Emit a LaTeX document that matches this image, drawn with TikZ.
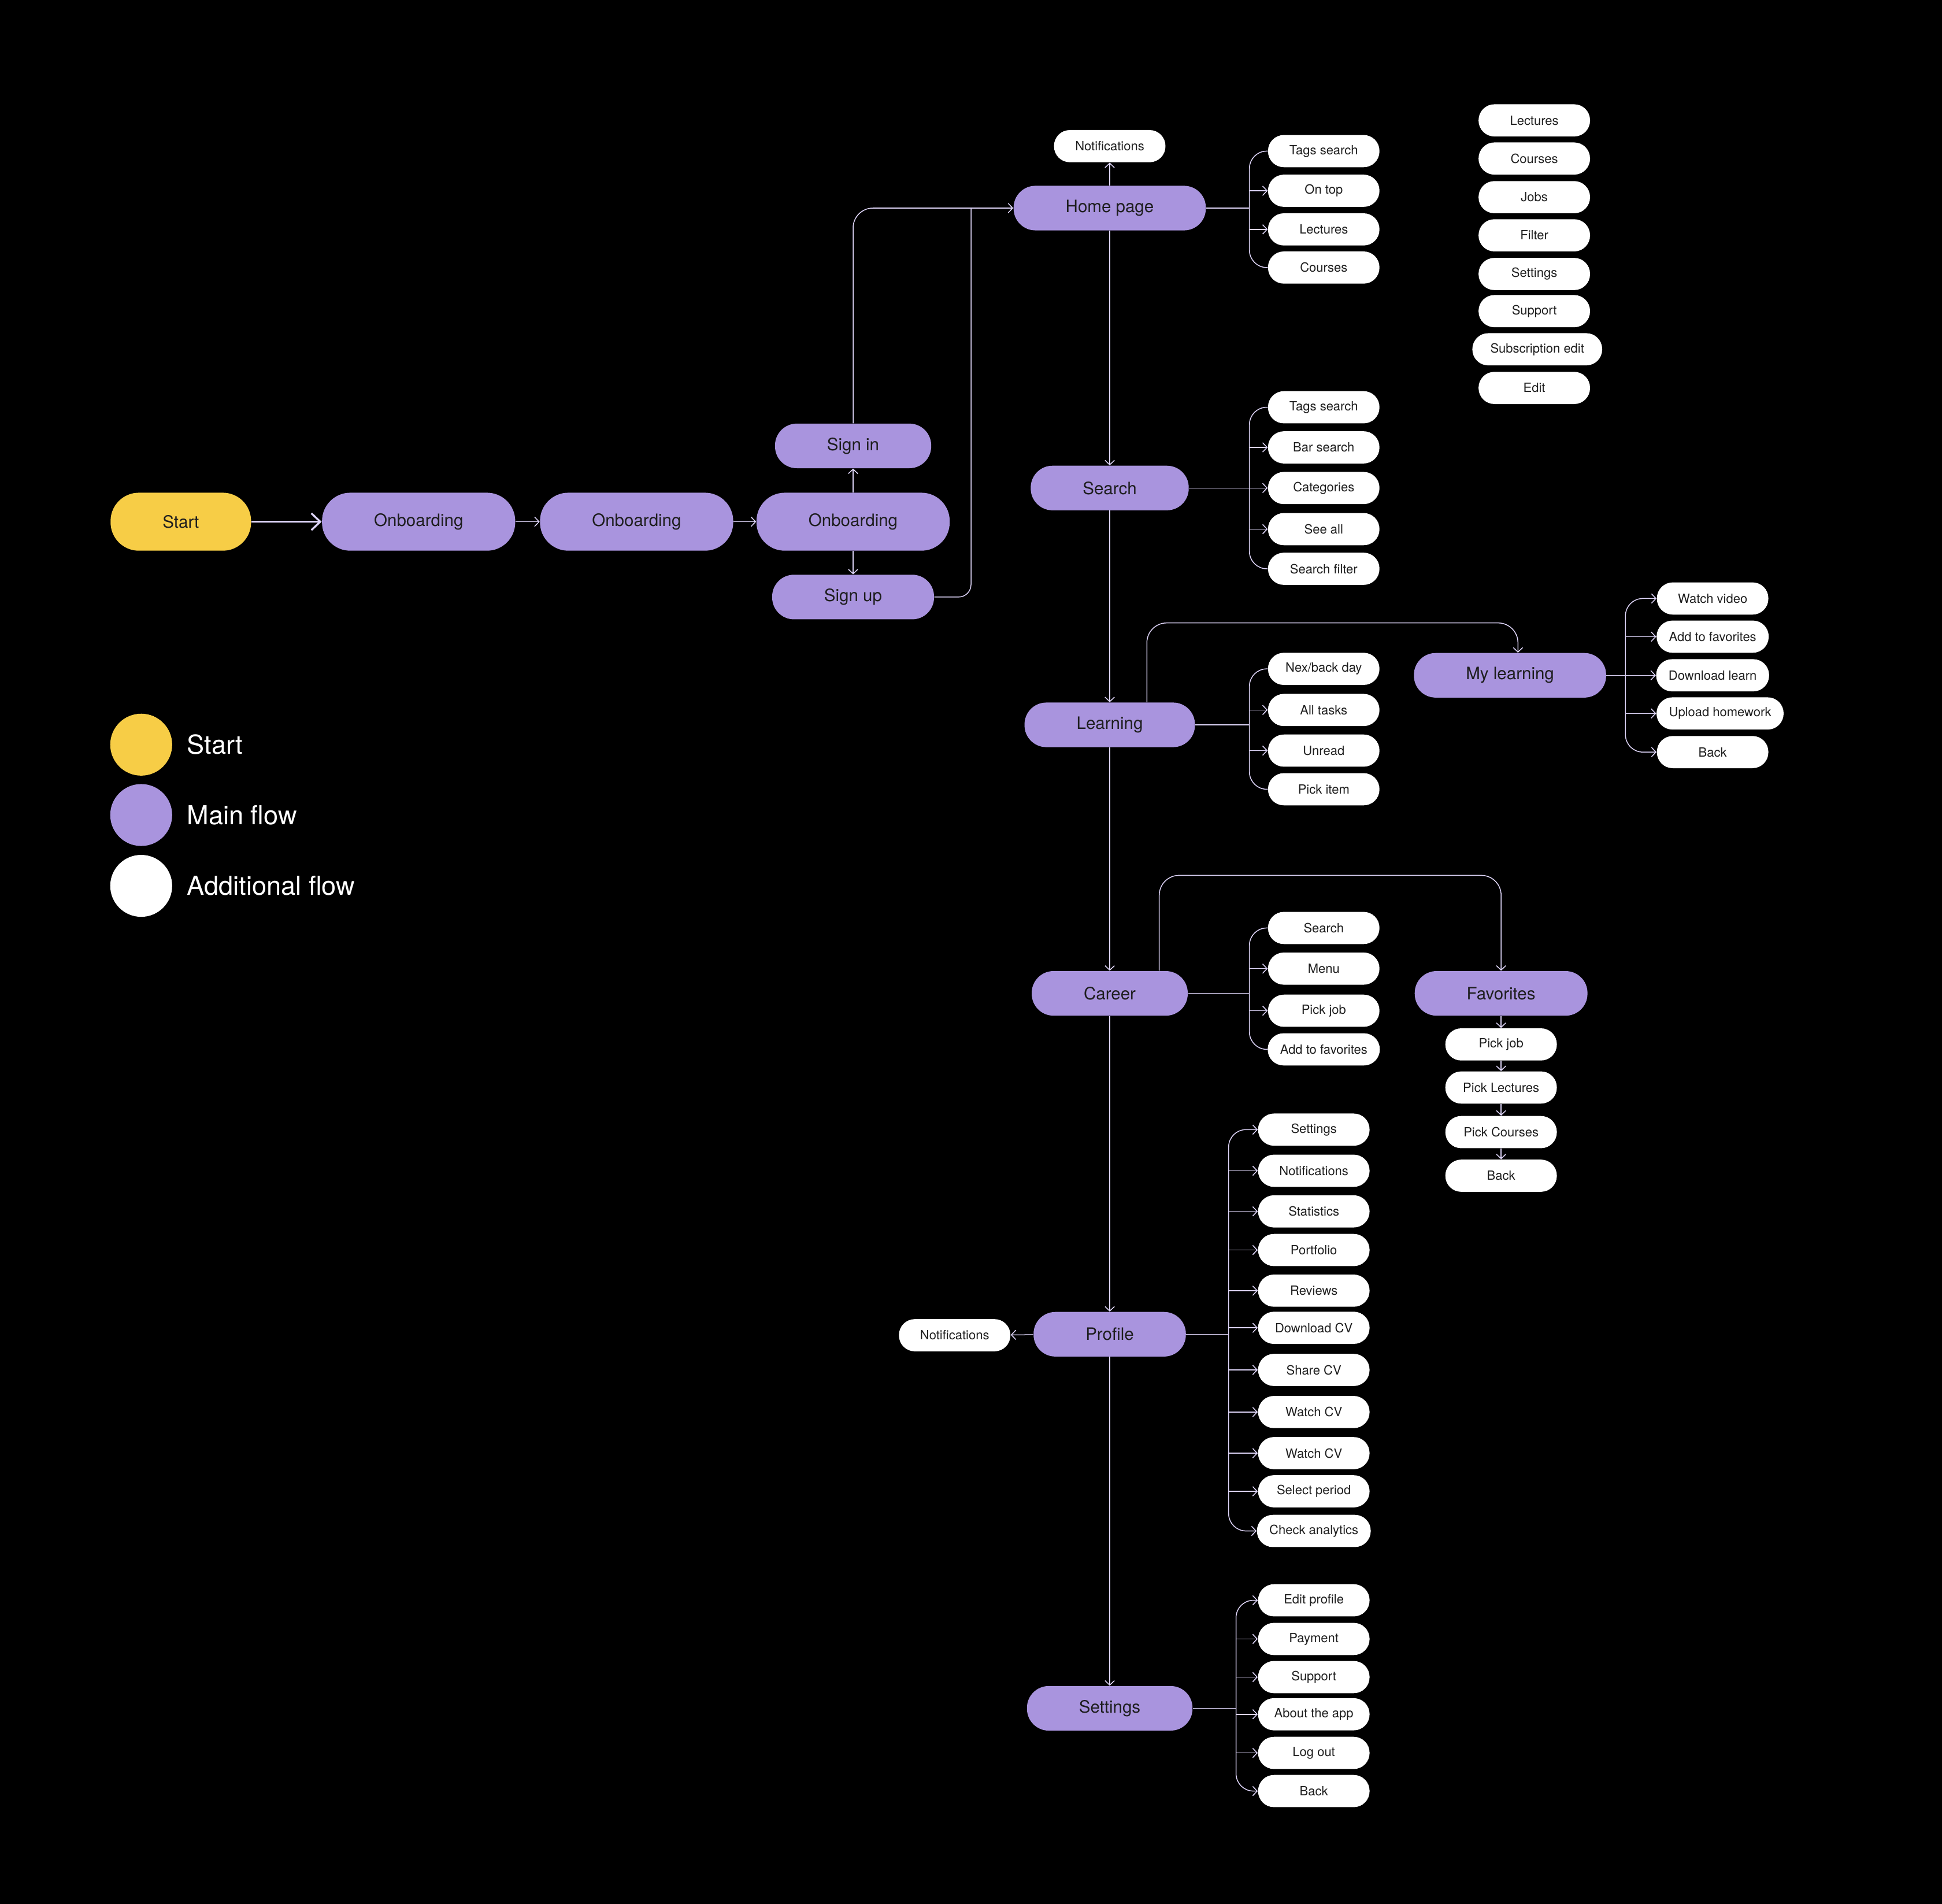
\documentclass[tikz,border=0pt]{standalone}
\usepackage{fontspec}
\setmainfont{TeX Gyre Heros}
\usetikzlibrary{arrows.meta}
\definecolor{flowpurple}{HTML}{A994DE}
\definecolor{flowyellow}{HTML}{F7CD46}
\definecolor{wire}{HTML}{DCD3F6}
\definecolor{ink}{HTML}{1E1E1E}
\newcommand{\nodesize}{\fontsize{9.8}{11}\selectfont}
\newcommand{\subsize}{\fontsize{7.3}{9}\selectfont}
\newcommand{\keysize}{\fontsize{15}{18}\selectfont}
\tikzset{
  mainbox/.style={rectangle, rounded corners=4.4mm, fill=flowpurple, text=ink, minimum height=9mm, inner xsep=10.5mm, font=\nodesize},
  bigbox/.style={mainbox, rounded corners=5.7mm, minimum height=11.7mm},
  startbox/.style={bigbox, fill=flowyellow},
  subbox/.style={rectangle, rounded corners=3.2mm, fill=white, text=ink, minimum height=6.5mm, minimum width=22.5mm, inner xsep=2.5mm, font=\subsize},
  ln/.style={draw=wire, line width=0.5pt},
  arr/.style={ln, -{Straight Barb[length=0.9mm, width=1.9mm]}},
  bigarr/.style={draw=wire, line width=1.1pt, -{Straight Barb[length=1.8mm, width=3.4mm]}},
  key/.style={circle, minimum size=12.5mm, inner sep=0pt},
  keytext/.style={anchor=west, text=white, font=\keysize}
}

\begin{document}
\begin{tikzpicture}
\fill[black] (0,0) rectangle (39.2,-38.425);

% entry
\node[startbox] (start) at (3.65,-10.53) {Start};
\node[bigbox] (onb1) at (8.45,-10.53) {Onboarding};
\node[bigbox] (onb2) at (12.85,-10.53) {Onboarding};
\node[bigbox] (onb3) at (17.22,-10.53) {Onboarding};
\node[mainbox] (signin) at (17.22,-9.0) {Sign in};
\node[mainbox] (signup) at (17.22,-12.05) {Sign up};
\draw[bigarr] (start) -- (onb1);
\draw[arr] (onb1) -- (onb2);
\draw[arr] (onb2) -- (onb3);
\draw[arr] (onb3) -- (signin);
\draw[arr] (onb3) -- (signup);

% home page
\node[mainbox] (home) at (22.4,-4.2) {Home page};
\node[subbox] (ntop) at (22.4,-2.95) {Notifications};
\node[subbox] (hs1) at (26.72,-3.05) {Tags search};
\node[subbox] (hs2) at (26.72,-3.85) {On top};
\node[subbox] (hs3) at (26.72,-4.63) {Lectures};
\node[subbox] (hs4) at (26.72,-5.4) {Courses};
\coordinate (hb) at (25.22,-4.2);
\coordinate (join) at (19.6,-4.2);
\draw[arr, rounded corners=4mm] (signin.north) |- (home.west);
\draw[ln, rounded corners=2.5mm] (signup.east) -| (join);
\draw[arr] (home) -- (ntop);
\draw[ln] (home) -- (hb);
\draw[ln, rounded corners=3.5mm] (hb) |- (hs1.west);
\draw[ln, rounded corners=3.5mm] (hb) |- (hs4.west);
\draw[arr] (hb |- hs2.west) -- (hs2.west);
\draw[arr] (hb |- hs3.west) -- (hs3.west);

% loose screens
\node[subbox] (tr1) at (30.97,-2.43) {Lectures};
\node[subbox] (tr2) at (30.97,-3.2) {Courses};
\node[subbox] (tr3) at (30.97,-3.98) {Jobs};
\node[subbox] (tr4) at (30.97,-4.75) {Filter};
\node[subbox] (tr5) at (30.97,-5.53) {Settings};
\node[subbox] (tr6) at (30.97,-6.28) {Support};
\node[subbox, minimum width=26.2mm] (tr7) at (31.03,-7.05) {Subscription edit};
\node[subbox] (tr8) at (30.97,-7.83) {Edit};

% search
\node[mainbox] (search) at (22.4,-9.85) {Search};
\node[subbox] (ss1) at (26.72,-8.22) {Tags search};
\node[subbox] (ss2) at (26.72,-9.03) {Bar search};
\node[subbox] (ss3) at (26.72,-9.85) {Categories};
\node[subbox] (ss4) at (26.72,-10.68) {See all};
\node[subbox] (ss5) at (26.72,-11.48) {Search filter};
\coordinate (sb) at (25.22,-9.85);
\draw[arr] (home) -- (search);
\draw[arr] (search) -- (ss3);
\draw[ln, rounded corners=3.5mm] (sb) |- (ss1.west);
\draw[ln, rounded corners=3.5mm] (sb) |- (ss5.west);
\draw[arr] (sb |- ss2.west) -- (ss2.west);
\draw[arr] (sb |- ss4.west) -- (ss4.west);

% learning
\node[mainbox] (learn) at (22.4,-14.63) {Learning};
\node[subbox] (ls1) at (26.72,-13.5) {Nex/back day};
\node[subbox] (ls2) at (26.72,-14.33) {All tasks};
\node[subbox] (ls3) at (26.72,-15.15) {Unread};
\node[subbox] (ls4) at (26.72,-15.93) {Pick item};
\coordinate (lb) at (25.22,-14.63);
\draw[arr] (search) -- (learn);
\draw[ln] (learn) -- (lb);
\draw[ln, rounded corners=3.5mm] (lb) |- (ls1.west);
\draw[ln, rounded corners=3.5mm] (lb) |- (ls4.west);
\draw[arr] (lb |- ls2.west) -- (ls2.west);
\draw[arr] (lb |- ls3.west) -- (ls3.west);

% my learning
\node[mainbox] (mylearn) at (30.48,-13.63) {My learning};
\node[subbox] (ms1) at (34.57,-12.08) {Watch video};
\node[subbox] (ms2) at (34.57,-12.85) {Add to favorites};
\node[subbox] (ms3) at (34.57,-13.63) {Download learn};
\node[subbox, minimum width=25.5mm] (ms4) at (34.72,-14.4) {Upload homework};
\node[subbox] (ms5) at (34.57,-15.18) {Back};
\coordinate (mb) at (32.81,-13.63);
\draw[arr, rounded corners=4mm] ([xshift=7.5mm]learn.north) |- ([xshift=1.6mm, yshift=6mm]mylearn.north) -- ([xshift=1.6mm]mylearn.north);
\draw[arr] (mylearn) -- (ms3);
\draw[arr, rounded corners=3.5mm] (mb) |- (ms1.west);
\draw[arr, rounded corners=3.5mm] (mb) |- (ms5.west);
\draw[arr] (mb |- ms2.west) -- (ms2.west);
\draw[arr] (mb |- ms4.west) -- (ms4.west);

% career
\node[mainbox] (career) at (22.4,-20.05) {Career};
\node[subbox] (cs1) at (26.72,-18.73) {Search};
\node[subbox] (cs2) at (26.72,-19.55) {Menu};
\node[subbox] (cs3) at (26.72,-20.4) {Pick job};
\node[subbox] (cs4) at (26.72,-21.18) {Add to favorites};
\coordinate (cb) at (25.22,-20.05);
\draw[arr] (learn) -- (career);
\draw[ln] (career) -- (cb);
\draw[ln, rounded corners=3.5mm] (cb) |- (cs1.west);
\draw[ln, rounded corners=3.5mm] (cb) |- (cs4.west);
\draw[arr] (cb |- cs2.west) -- (cs2.west);
\draw[arr] (cb |- cs3.west) -- (cs3.west);

% favorites
\node[mainbox] (fav) at (30.3,-20.05) {Favorites};
\node[subbox] (fs1) at (30.3,-21.08) {Pick job};
\node[subbox] (fs2) at (30.3,-21.95) {Pick Lectures};
\node[subbox] (fs3) at (30.3,-22.85) {Pick Courses};
\node[subbox] (fs4) at (30.3,-23.73) {Back};
\draw[arr, rounded corners=4mm] ([xshift=10mm]career.north) |- ([yshift=19.25mm]fav.north) -- (fav.north);
\draw[arr] (fav) -- (fs1);
\draw[arr] (fs1) -- (fs2);
\draw[arr] (fs2) -- (fs3);
\draw[arr] (fs3) -- (fs4);

% profile
\node[mainbox] (profile) at (22.4,-26.93) {Profile};
\node[subbox] (nleft) at (19.27,-26.95) {Notifications};
\node[subbox] (ps1) at (26.52,-22.8) {Settings};
\node[subbox] (ps2) at (26.52,-23.63) {Notifications};
\node[subbox] (ps3) at (26.52,-24.45) {Statistics};
\node[subbox] (ps4) at (26.52,-25.23) {Portfolio};
\node[subbox] (ps5) at (26.52,-26.05) {Reviews};
\node[subbox] (ps6) at (26.52,-26.8) {Download CV};
\node[subbox] (ps7) at (26.52,-27.65) {Share CV};
\node[subbox] (ps8) at (26.52,-28.5) {Watch CV};
\node[subbox] (ps9) at (26.52,-29.33) {Watch CV};
\node[subbox] (ps10) at (26.52,-30.1) {Select period};
\node[subbox] (ps11) at (26.52,-30.9) {Check analytics};
\coordinate (pb) at (24.8,-26.93);
\draw[arr] (career) -- (profile);
\draw[arr] (profile) -- (nleft);
\draw[ln] (profile) -- (pb);
\draw[arr, rounded corners=3.5mm] (pb) |- (ps1.west);
\draw[arr, rounded corners=3.5mm] (pb) |- (ps11.west);
\draw[arr] (pb |- ps2.west) -- (ps2.west);
\draw[arr] (pb |- ps3.west) -- (ps3.west);
\draw[arr] (pb |- ps4.west) -- (ps4.west);
\draw[arr] (pb |- ps5.west) -- (ps5.west);
\draw[arr] (pb |- ps6.west) -- (ps6.west);
\draw[arr] (pb |- ps7.west) -- (ps7.west);
\draw[arr] (pb |- ps8.west) -- (ps8.west);
\draw[arr] (pb |- ps9.west) -- (ps9.west);
\draw[arr] (pb |- ps10.west) -- (ps10.west);

% settings
\node[mainbox] (settings) at (22.4,-34.48) {Settings};
\node[subbox] (ts1) at (26.52,-32.3) {Edit profile};
\node[subbox] (ts2) at (26.52,-33.08) {Payment};
\node[subbox] (ts3) at (26.52,-33.85) {Support};
\node[subbox] (ts4) at (26.52,-34.6) {About the app};
\node[subbox] (ts5) at (26.52,-35.38) {Log out};
\node[subbox] (ts6) at (26.52,-36.15) {Back};
\coordinate (tb) at (24.95,-34.48);
\draw[arr] (profile) -- (settings);
\draw[ln] (settings) -- (tb);
\draw[arr, rounded corners=3.5mm] (tb) |- (ts1.west);
\draw[arr, rounded corners=3.5mm] (tb) |- (ts6.west);
\draw[arr] (tb |- ts2.west) -- (ts2.west);
\draw[arr] (tb |- ts3.west) -- (ts3.west);
\draw[arr] (tb |- ts4.west) -- (ts4.west);
\draw[arr] (tb |- ts5.west) -- (ts5.west);

% legend
\node[key, fill=flowyellow] (kstart) at (2.85,-15.03) {};
\node[key, fill=flowpurple] (kmain) at (2.85,-16.45) {};
\node[key, fill=white] (kadd) at (2.85,-17.88) {};
\node[keytext] (tstart) at (3.65,-15.03) {Start};
\node[keytext] (tmain) at (3.65,-16.45) {Main flow};
\node[keytext] (tadd) at (3.65,-17.88) {Additional flow};
\end{tikzpicture}
\end{document}
